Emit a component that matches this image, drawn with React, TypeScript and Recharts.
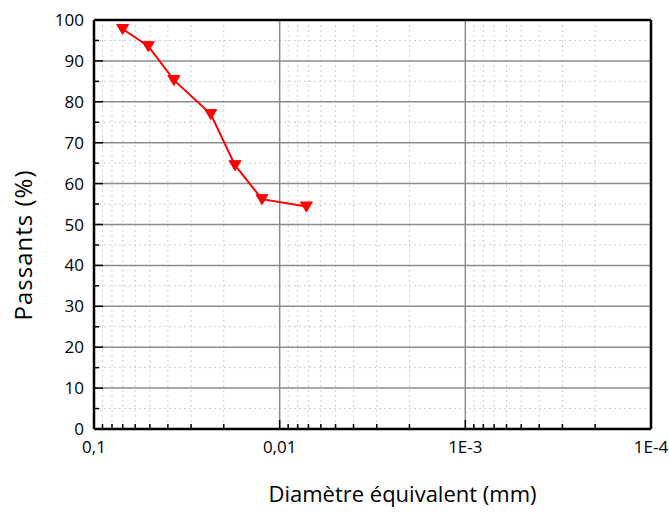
import React from 'react'
import {
  LineChart,
  Line,
  XAxis,
  YAxis,
  CartesianGrid,
  ReferenceLine,
} from 'recharts'

// equivalent diameter (mm) and cumulative passing (%)
const diameters = [0.0701, 0.051, 0.0371, 0.0235, 0.0174, 0.01245, 0.00718]
const passants = [97.8, 93.6, 85.3, 77.0, 64.5, 56.2, 54.4]

const xMajorTicks = [0.1, 0.01, 0.001, 0.0001]
const xTickLabels = ['0,1', '0,01', '1E-3', '1E-4']
const xMinorTicks = [
  0.09, 0.08, 0.07, 0.06, 0.05, 0.04, 0.03, 0.02,
  0.009, 0.008, 0.007, 0.006, 0.005, 0.004, 0.003, 0.002,
  0.0009, 0.0008, 0.0007, 0.0006, 0.0005, 0.0004, 0.0003, 0.0002,
]
const yMajorTicks = [0, 10, 20, 30, 40, 50, 60, 70, 80, 90, 100]
const yMinorTicks = [5, 15, 25, 35, 45, 55, 65, 75, 85, 95]

const FONT = '"Open Sans", sans-serif'

const data = diameters.map((d, i) => ({ d, p: passants[i] }))

const XTick = (props: any) => {
  const { x, y, payload } = props
  const i = xMajorTicks.indexOf(payload.value)
  const major = i >= 0
  return (
    <g>
      <line x1={x} x2={x} y1={y} y2={y - (major ? 9 : 5)} stroke="#000" strokeWidth={1.5} />
      {major && (
        <text x={x} y={y + 24} textAnchor="middle" fontSize={17} fill="#000" style={{ fontFamily: FONT }}>
          {xTickLabels[i]}
        </text>
      )}
    </g>
  )
}

const YTick = (props: any) => {
  const { x, y, payload } = props
  const major = yMajorTicks.indexOf(payload.value) >= 0
  return (
    <g>
      <line x1={x} x2={x + (major ? 9 : 5)} y1={y} y2={y} stroke="#000" strokeWidth={1.5} />
      {major && (
        <text x={x - 10} y={y + 6} textAnchor="end" fontSize={17} fill="#000" style={{ fontFamily: FONT }}>
          {payload.value}
        </text>
      )}
    </g>
  )
}

const TriangleDot = (props: any) => {
  const { cx, cy } = props
  if (cx == null || cy == null) return null
  return (
    <polygon
      points={`${cx - 6},${cy - 4.5} ${cx + 6},${cy - 4.5} ${cx},${cy + 5.5}`}
      fill="#ff0000"
      stroke="#ff0000"
      strokeWidth={1}
    />
  )
}

const XLabel = (props: any) => {
  const { viewBox } = props
  return (
    <text
      x={viewBox.x + viewBox.width / 2 + 30}
      y={viewBox.y + 73}
      textAnchor="middle"
      fontSize={22}
      fill="#000"
      style={{ fontFamily: FONT }}
    >
      Diamètre équivalent (mm)
    </text>
  )
}

const YLabel = (props: any) => {
  const { viewBox } = props
  const cx = 32
  const cy = viewBox.y + viewBox.height / 2 + 20.5
  return (
    <text
      x={cx}
      y={cy}
      transform={`rotate(-90, ${cx}, ${cy})`}
      textAnchor="middle"
      fontSize={24}
      letterSpacing={1}
      fill="#000"
      style={{ fontFamily: FONT }}
    >
      Passants (%)
    </text>
  )
}

export default function App() {
  return (
    <div style={{ position: 'absolute', left: 0, top: 0, background: '#fff', width: 669, height: 514 }}>
      <LineChart
        width={669}
        height={514}
        data={data}
        margin={{ top: 20, right: 18, left: 8, bottom: 0 }}
      >
        <CartesianGrid
          stroke="#cfcfcf"
          strokeDasharray="2 3"
          horizontalValues={yMinorTicks}
          verticalValues={xMinorTicks}
        />
        <CartesianGrid
          stroke="#8c8c8c"
          strokeWidth={1.5}
          horizontalValues={yMajorTicks}
          verticalValues={xMajorTicks}
        />
        <XAxis
          dataKey="d"
          type="number"
          scale="log"
          domain={[0.0001, 0.1]}
          reversed
          allowDataOverflow
          ticks={[...xMajorTicks, ...xMinorTicks]}
          interval={0}
          height={85}
          tickSize={0}
          tickMargin={0}
          tickLine={false}
          tick={<XTick />}
          axisLine={{ stroke: '#000', strokeWidth: 2.5 }}
          label={<XLabel />}
        />
        <YAxis
          type="number"
          domain={[0, 100]}
          ticks={[...yMajorTicks, ...yMinorTicks]}
          interval={0}
          width={86}
          tickSize={0}
          tickMargin={0}
          tickLine={false}
          tick={<YTick />}
          axisLine={{ stroke: '#000', strokeWidth: 2.5 }}
          label={<YLabel />}
        />
        <ReferenceLine y={100} stroke="#000" strokeWidth={2.5} />
        <ReferenceLine x={0.0001} stroke="#000" strokeWidth={2.5} />
        <Line
          dataKey="p"
          stroke="#ff0000"
          strokeWidth={2}
          dot={<TriangleDot />}
          activeDot={false}
          isAnimationActive={false}
        />
      </LineChart>
    </div>
  )
}
